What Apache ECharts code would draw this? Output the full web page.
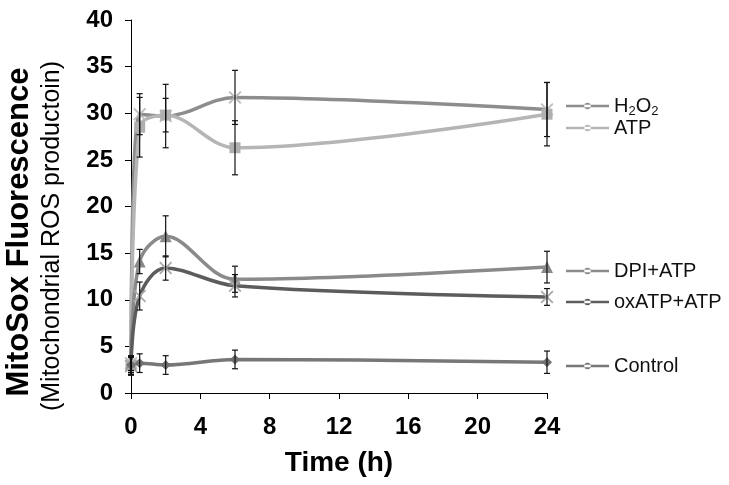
<!DOCTYPE html>
<html><head><meta charset="utf-8">
<script src="https://cdn.jsdelivr.net/npm/echarts@6/dist/echarts.min.js"></script>
<style>html,body{margin:0;padding:0;background:#fff}#c{width:729px;height:485px}</style>
</head><body><div id="c"></div>
<script>
var times = [0, 0.5, 2, 6, 24];
var seriesNames = ['H2O2', 'ATP', 'DPI+ATP', 'oxATP+ATP', 'Control'];
var h2o2 = [3.2, 29.9, 29.7, 31.7, 30.4];
var h2o2Err = [0.8, 2.2, 3.4, 2.9, 2.9];
var atp = [3.0, 28.5, 29.8, 26.3, 29.9];
var atpErr = [0.8, 3.2, 1.8, 2.9, 3.4];
var dpi = [3.0, 14.1, 16.8, 12.2, 13.5];
var dpiErr = [1.0, 1.3, 2.2, 1.4, 1.7];
var oxatp = [2.9, 10.4, 13.4, 11.5, 10.3];
var oxatpErr = [1.0, 1.5, 1.3, 1.2, 0.9];
var control = [3.0, 3.2, 3.0, 3.6, 3.3];
var controlErr = [1.0, 1.0, 1.0, 1.0, 1.2];
var xTicks = [0, 4, 8, 12, 16, 20, 24];
var yTicks = [0, 5, 10, 15, 20, 25, 30, 35, 40];
var yTitle = 'MitoSox Fluorescence';
var ySubTitle = '(Mitochondrial ROS productoin)';
var xTitle = 'Time (h)';

var FONT = '"Liberation Sans", Arial, sans-serif';
var X_PATH = 'path://M0,1 L1,0 L5,4 L9,0 L10,1 L6,5 L10,9 L9,10 L5,6 L1,10 L0,9 L4,5 Z';
var LEG_PATH = 'path://M0,5 L40,5 L40,7.5 L0,7.5 Z M17,6.25 A3,3 0 1,0 23,6.25 A3,3 0 1,0 17,6.25 Z';

function pairs(v) { return times.map(function (t, i) { return [t, v[i]]; }); }
function errPairs(v, e) { return times.map(function (t, i) { return [t, v[i] - e[i], v[i] + e[i]]; }); }

var defs = [
  {name: 'H2O2', vals: h2o2, err: h2o2Err, color: '#8d8d8d', mcolor: '#bdbdbd', symbol: X_PATH, size: 13, legTop: 102},
  {name: 'ATP', vals: atp, err: atpErr, color: '#b5b5b5', mcolor: '#b0b0b0', symbol: 'rect', size: 11, legTop: 124},
  {name: 'DPI+ATP', vals: dpi, err: dpiErr, color: '#8a8a8a', mcolor: '#8a8a8a', symbol: 'triangle', size: 12, legTop: 267},
  {name: 'oxATP+ATP', vals: oxatp, err: oxatpErr, color: '#5c5c5c', mcolor: '#aaaaaa', symbol: X_PATH, size: 13, legTop: 298},
  {name: 'Control', vals: control, err: controlErr, color: '#777777', mcolor: '#707070', symbol: 'diamond', size: 10, legTop: 362}
];

var series = [];
defs.forEach(function (d) {
  series.push({
    name: d.name, type: 'line', data: pairs(d.vals), smooth: 0.35,
    symbol: d.symbol, symbolSize: d.size, showSymbol: true,
    lineStyle: {color: d.color, width: 3.5},
    itemStyle: {color: d.mcolor},
    emphasis: {disabled: true}, z: 2
  });
});
defs.forEach(function (d) {
  series.push({
    type: 'custom', name: d.name + ' err', data: errPairs(d.vals, d.err), z: 3,
    renderItem: function (params, api) {
      var x = api.value(0), lo = api.value(1), hi = api.value(2);
      var p1 = api.coord([x, lo]), p2 = api.coord([x, hi]);
      var w = 3;
      var st = {stroke: '#111', lineWidth: 1.2};
      return {type: 'group', children: [
        {type: 'line', shape: {x1: p1[0], y1: p1[1], x2: p2[0], y2: p2[1]}, style: st},
        {type: 'line', shape: {x1: p1[0] - w, y1: p1[1], x2: p1[0] + w, y2: p1[1]}, style: st},
        {type: 'line', shape: {x1: p2[0] - w, y1: p2[1], x2: p2[0] + w, y2: p2[1]}, style: st}
      ]};
    }
  });
});

var legends = defs.map(function (d) {
  return {
    data: [{name: d.name, icon: LEG_PATH, itemStyle: {color: d.color}}],
    left: 561, top: d.legTop - 11, itemWidth: 43, itemHeight: 13, itemGap: 6,
    selectedMode: false,
    textStyle: {fontFamily: FONT, fontSize: 20, color: '#111',
      rich: {sub: {fontFamily: FONT, fontSize: 13, color: '#111', verticalAlign: 'bottom', padding: [11, 0, 0, 0]}}},
    formatter: function (n) { return n === 'H2O2' ? 'H{sub|2}O{sub|2}' : n; }
  };
});

var chart = echarts.init(document.getElementById('c'), null, {renderer: 'canvas'});
chart.setOption({
  animation: false,
  backgroundColor: '#fff',
  grid: {left: 131, top: 20, right: 182, bottom: 92, containLabel: false},
  legend: legends,
  graphic: [
    {type: 'text', x: 19, y: 232, rotation: Math.PI / 2, silent: true,
      style: {text: yTitle, font: 'bold 31px ' + FONT, fill: '#000', textAlign: 'center', textVerticalAlign: 'middle'}},
    {type: 'text', x: 52, y: 236, rotation: Math.PI / 2, silent: true,
      style: {text: ySubTitle, font: '25px ' + FONT, fill: '#000', textAlign: 'center', textVerticalAlign: 'middle'}}
  ],
  xAxis: {
    type: 'value', min: xTicks[0], max: xTicks[xTicks.length - 1], interval: 4,
    name: xTitle, nameLocation: 'middle', nameGap: 56,
    nameTextStyle: {fontFamily: FONT, fontSize: 28, fontWeight: 'bold', color: '#000'},
    axisLine: {lineStyle: {color: '#000', width: 1}},
    axisTick: {show: true, inside: false, length: 6, lineStyle: {color: '#000'}},
    axisLabel: {fontFamily: FONT, fontSize: 24, fontWeight: 'bold', color: '#000', margin: 22},
    splitLine: {show: false}
  },
  yAxis: {
    type: 'value', min: yTicks[0], max: yTicks[yTicks.length - 1], interval: 5,
    axisLine: {show: true, lineStyle: {color: '#000', width: 1}},
    axisTick: {show: true, inside: false, length: 6, lineStyle: {color: '#000'}},
    axisLabel: {fontFamily: FONT, fontSize: 24, fontWeight: 'bold', color: '#000', margin: 18},
    splitLine: {show: false}
  },
  series: series
});
</script></body></html>
